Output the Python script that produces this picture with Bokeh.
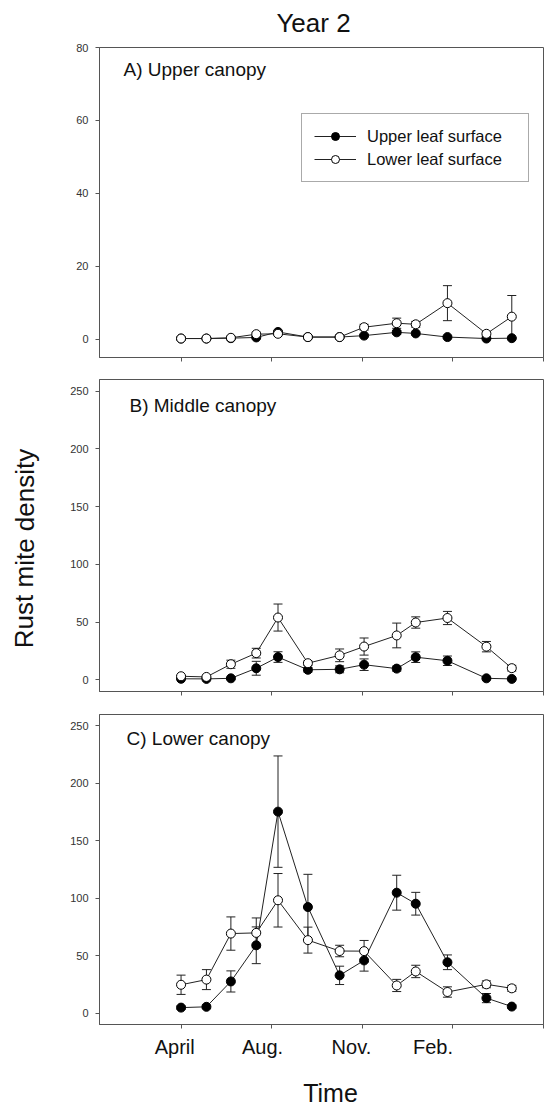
from bokeh.plotting import figure
from bokeh.models import (Range1d, FixedTicker, LinearAxis, Whisker, TeeHead,
                          ColumnDataSource, Label, Legend, LegendItem)
from bokeh.layouts import column, row
from bokeh.embed import file_html
from bokeh.resources import INLINE

# ---------------- data ----------------
days = [100, 128, 155, 183, 207, 240, 275, 302, 338, 359, 394, 437, 465]

x_ticks = [100, 200, 300, 400, 500]
month_labels = ["April", "Aug.", "Nov.", "Feb."]
month_label_pos = [93, 190, 288, 378]

a_upper = [0.2, 0.2, 0.3, 0.5, 2.0, 0.6, 0.6, 1.0, 1.9, 1.6, 0.6, 0.2, 0.3]
a_upper_se = [0.1, 0.1, 0.1, 0.3, 0.4, 0.2, 0.2, 0.3, 0.5, 0.4, 0.3, 0.1, 0.2]
a_lower = [0.2, 0.2, 0.4, 1.4, 1.5, 0.6, 0.6, 3.3, 4.4, 4.1, 9.9, 1.5, 6.2]
a_lower_se = [0.1, 0.1, 0.2, 0.5, 0.5, 0.2, 0.2, 0.8, 1.4, 0.8, 4.8, 0.6, 5.8]

b_upper = [1.0, 0.9, 1.4, 10.1, 19.8, 8.8, 9.2, 13.2, 9.8, 19.7, 16.6, 1.4, 0.9]
b_upper_se = [0.5, 0.5, 0.8, 6.0, 4.6, 2.0, 3.0, 5.0, 2.2, 4.6, 4.1, 0.8, 0.6]
b_lower = [3.2, 2.6, 13.6, 23.2, 54.0, 14.5, 21.3, 28.9, 38.5, 49.7, 53.6, 28.8, 10.2]
b_lower_se = [0.8, 0.7, 3.5, 4.2, 11.7, 1.8, 5.5, 7.4, 10.7, 4.9, 5.7, 4.5, 2.5]

c_upper = [4.7, 5.4, 27.5, 59.0, 175.4, 92.3, 32.8, 45.8, 104.8, 95.2, 44.2, 13.0, 5.6]
c_upper_se = [1.5, 1.5, 9.2, 16.0, 48.5, 28.5, 8.0, 9.3, 15.2, 9.9, 6.4, 4.0, 1.5]
c_lower = [24.6, 29.1, 69.2, 69.8, 98.2, 63.5, 54.0, 53.9, 24.0, 36.2, 18.3, 25.0, 21.5]
c_lower_se = [8.4, 8.7, 14.5, 13.0, 23.3, 11.3, 5.0, 9.3, 5.3, 5.4, 4.5, 3.0, 2.6]

FONT = "Liberation Sans"
FRAME = "#555555"
STRIP_W = 40
MAIN_W = 549 - STRIP_W
LEFT = 59    # frame left border inside the main column (page x = 99)
RIGHT = 6    # frame right border (page x = 543)


def make_panel(title, title_dx, title_dy, upper, upper_se, lower, lower_se,
               y_range, y_ticks, height, top, bottom, legend=False, last=False):
    p = figure(width=MAIN_W, height=height, title=None,
               x_range=Range1d(10, 500), y_range=Range1d(*y_range),
               min_border_left=LEFT, min_border_right=RIGHT,
               min_border_top=top, min_border_bottom=bottom,
               output_backend="svg", toolbar_location=None,
               background_fill_color="white", border_fill_color="white")
    p.xgrid.visible = False
    p.ygrid.visible = False
    p.outline_line_color = FRAME
    p.outline_line_width = 1

    for ax in p.xaxis:
        ax.ticker = FixedTicker(ticks=x_ticks)
        ax.major_label_overrides = {t: "" for t in x_ticks}
        ax.major_label_text_font_size = "0px"
        ax.major_label_standoff = 0
        ax.major_tick_out = 4
        ax.major_tick_in = 0
        ax.minor_tick_out = 0
        ax.minor_tick_in = 0
        ax.axis_line_color = FRAME
        ax.major_tick_line_color = FRAME
    for ax in p.yaxis:
        ax.ticker = FixedTicker(ticks=y_ticks)
        ax.major_tick_out = 4
        ax.major_tick_in = 0
        ax.minor_tick_out = 0
        ax.minor_tick_in = 0
        ax.axis_line_color = FRAME
        ax.major_tick_line_color = FRAME
        ax.major_label_standoff = 7
        ax.major_label_text_font = FONT
        ax.major_label_text_font_size = "11px"
        ax.major_label_text_color = "#333333"

    src_u = ColumnDataSource(dict(x=days, y=upper,
                                  hi=[m + s for m, s in zip(upper, upper_se)],
                                  lo=[m - s for m, s in zip(upper, upper_se)]))
    src_l = ColumnDataSource(dict(x=days, y=lower,
                                  hi=[m + s for m, s in zip(lower, lower_se)],
                                  lo=[m - s for m, s in zip(lower, lower_se)]))

    for src in (src_u, src_l):
        w = Whisker(source=src, base="x", upper="hi", lower="lo",
                    dimension="height", line_color="#222222", line_width=1,
                    upper_head=TeeHead(size=9, line_color="#222222", line_width=1),
                    lower_head=TeeHead(size=9, line_color="#222222", line_width=1),
                    level="underlay")
        p.add_layout(w)

    lu = p.line("x", "y", source=src_u, line_color="#222222", line_width=1)
    ll = p.line("x", "y", source=src_l, line_color="#222222", line_width=1)
    su = p.scatter("x", "y", source=src_u, marker="circle", size=9,
                   fill_color="black", line_color="black", line_width=1)
    sl = p.scatter("x", "y", source=src_l, marker="circle", size=9,
                   fill_color="white", line_color="black", line_width=1)

    fh = height - top - bottom
    p.add_layout(Label(x=title_dx, y=fh - title_dy, x_units="screen", y_units="screen",
                       text=title, text_font=FONT, text_font_size="19px",
                       text_color="#111111", text_baseline="middle",
                       text_align="left"))

    if legend:
        lg = Legend(items=[LegendItem(label="Upper leaf surface", renderers=[lu, su]),
                           LegendItem(label="Lower leaf surface", renderers=[ll, sl])],
                    location=(202, 175), margin=0, padding=12, spacing=3,
                    glyph_width=42, glyph_height=20, label_height=20,
                    label_width=149, label_standoff=11,
                    label_text_font=FONT, label_text_font_size="16.5px",
                    label_text_color="#111111",
                    border_line_color=FRAME, border_line_width=1,
                    background_fill_color="white", background_fill_alpha=1)
        p.add_layout(lg)

    if last:
        lab_axis = LinearAxis(ticker=FixedTicker(ticks=month_label_pos),
                              major_label_overrides={pos: t for pos, t in zip(month_label_pos, month_labels)},
                              major_tick_out=0, major_tick_in=0,
                              minor_tick_out=0, minor_tick_in=0,
                              axis_line_color=None,
                              major_label_standoff=7,
                              major_label_text_font=FONT,
                              major_label_text_font_size="20px",
                              major_label_text_color="#111111")
        p.add_layout(lab_axis, "below")
    return p


def strip(w, h, x_range, y_range, left=0, right=0):
    s = figure(width=w, height=h, title=None, x_range=x_range,
               y_range=y_range, x_axis_type=None, y_axis_type=None,
               min_border_left=left, min_border_right=right,
               min_border_top=0, min_border_bottom=0,
               output_backend="svg", toolbar_location=None,
               background_fill_color="white", border_fill_color="white")
    s.outline_line_color = None
    return s


# strips use page pixel coordinates (y grows downward)
top_strip = strip(MAIN_W, 40, Range1d(STRIP_W + LEFT, 549 - RIGHT), Range1d(40, 0),
                  left=LEFT, right=RIGHT)
top_strip.add_layout(Label(x=313, y=22, text="Year 2", text_font=FONT,
                           text_font_size="26px", text_color="#111111",
                           text_align="center", text_baseline="middle"))

pA = make_panel("A) Upper canopy", 24, 22, a_upper, a_upper_se, a_lower, a_lower_se,
                (-5, 80), [0, 20, 40, 60, 80],
                height=328, top=7, bottom=11, legend=True)
pB = make_panel("B) Middle canopy", 30, 26, b_upper, b_upper_se, b_lower, b_lower_se,
                (-10, 260), [0, 50, 100, 150, 200, 250],
                height=334, top=11, bottom=11)
pC = make_panel("C) Lower canopy", 27, 24, c_upper, c_upper_se, c_lower, c_lower_se,
                (-10, 260), [0, 50, 100, 150, 200, 250],
                height=366, top=12, bottom=44, last=True)

bottom_strip = strip(MAIN_W, 38, Range1d(STRIP_W + LEFT, 549 - RIGHT),
                     Range1d(1106, 1068), left=LEFT, right=RIGHT)
bottom_strip.add_layout(Label(x=330, y=1092, text="Time", text_font=FONT,
                              text_font_size="25px", text_color="#111111",
                              text_align="center", text_baseline="middle"))

left_strip = strip(STRIP_W, 1106, Range1d(0, STRIP_W), Range1d(1106, 0))
left_strip.add_layout(Label(x=24, y=548, text="Rust mite density",
                            angle=1.5707963, text_font=FONT,
                            text_font_size="26px", text_color="#111111",
                            text_align="center", text_baseline="middle"))

layout = row(left_strip,
             column(top_strip, pA, pB, pC, bottom_strip, spacing=0),
             spacing=0)

with open("out.html", "w") as f:
    f.write(file_html(layout, INLINE))
